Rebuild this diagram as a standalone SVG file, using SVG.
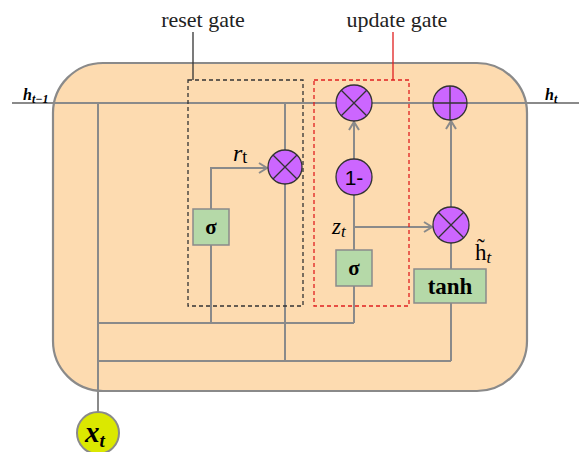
<svg xmlns="http://www.w3.org/2000/svg" width="579" height="452" viewBox="0 0 579 452">
<defs>
<style>
.ln{stroke:#8a8a8a;stroke-width:2;fill:none}
.op{fill:#cc66ff;stroke:#333;stroke-width:1.3}
.opl{stroke:#333;stroke-width:1.3;fill:none}
.gb{fill:#b5d9a8;stroke:#8a8a8a;stroke-width:1.5}
.serif{font-family:"Liberation Serif","Times New Roman",serif}
.sans{font-family:"Liberation Sans",Arial,sans-serif}
</style>
<marker id="arr" markerUnits="userSpaceOnUse" markerWidth="12" markerHeight="12" refX="10" refY="6" orient="auto">
<path d="M2,1 L10,6 L2,11" fill="none" stroke="#8a8a8a" stroke-width="2"/>
</marker>
</defs>
<rect id="cell" x="53" y="63" width="474" height="328" rx="50" ry="50" fill="#fddbb0" stroke="#8a8a8a" stroke-width="2.2"/>
<g id="connectors">
<path class="ln" d="M12,103 H579"/>
<path class="ln" d="M98,412 V103"/>
<path class="ln" d="M98,323 H354"/>
<path class="ln" d="M98,361 H451"/>
<path class="ln" d="M211,323 V245"/>
<path class="ln" d="M211,209 V168 H267" marker-end="url(#arr)"/>
<path class="ln" d="M285,103 V150"/>
<path class="ln" d="M285,184 V361"/>
<path class="ln" d="M354,323 V286"/>
<path class="ln" d="M354,250 V195"/>
<path class="ln" d="M354,227 H432" marker-end="url(#arr)"/>
<path class="ln" d="M354,159 V122" marker-end="url(#arr)"/>
<path class="ln" d="M451,361 V303"/>
<path class="ln" d="M451,269 V243"/>
<path class="ln" d="M451,207 V121" marker-end="url(#arr)"/>
</g>
<g id="reset-gate">
<rect x="188" y="80" width="115" height="226" fill="none" stroke="#333" stroke-width="1.3" stroke-dasharray="4,3"/>
<line x1="193" y1="32" x2="193" y2="80" stroke="#333" stroke-width="1.3"/>
<text class="serif" x="203" y="27" font-size="22" text-anchor="middle" fill="#222">reset gate</text>
</g>
<g id="update-gate">
<rect x="314" y="80" width="95" height="226" fill="none" stroke="#e02020" stroke-width="1.3" stroke-dasharray="4,3"/>
<line x1="393" y1="32" x2="393" y2="80" stroke="#e02020" stroke-width="1.3"/>
<text class="serif" x="397" y="27" font-size="22" text-anchor="middle" fill="#222">update gate</text>
</g>
<g id="sigma-r">
<rect class="gb" x="193" y="209" width="36" height="36"/>
<text class="serif" x="211" y="234" font-size="21" font-weight="bold" text-anchor="middle">σ</text>
</g>
<g id="mul-r">
<circle class="op" cx="285" cy="167" r="17"/>
<path class="opl" d="M273,155 L297,179 M297,155 L273,179"/>
</g>
<g id="mul-z">
<circle class="op" cx="354" cy="103" r="18"/>
<path class="opl" d="M341.3,90.3 L366.7,115.7 M366.7,90.3 L341.3,115.7"/>
</g>
<g id="one-minus">
<circle class="op" cx="354" cy="177" r="18"/>
<text class="sans" x="354" y="185" font-size="21" text-anchor="middle">1-</text>
</g>
<g id="sigma-z">
<rect class="gb" x="336" y="250" width="36" height="36"/>
<text class="serif" x="354" y="275" font-size="21" font-weight="bold" text-anchor="middle">σ</text>
</g>
<g id="plus">
<circle class="op" cx="450" cy="103" r="17"/>
<path class="opl" d="M433,103 H467 M450,86 V120"/>
</g>
<g id="mul-h">
<circle class="op" cx="451" cy="225" r="18"/>
<path class="opl" d="M438.3,212.3 L463.7,237.7 M463.7,212.3 L438.3,237.7"/>
</g>
<g id="tanh">
<rect class="gb" x="414" y="269" width="72" height="34"/>
<text class="serif" x="450" y="294" font-size="23" font-weight="bold" text-anchor="middle">tanh</text>
</g>
<g id="xt">
<circle cx="98" cy="433" r="21" fill="#dbe800" stroke="#8a8a8a" stroke-width="2"/>
<text class="serif" x="85" y="442" font-size="29" font-weight="bold" font-style="italic">x<tspan font-size="19" dy="5">t</tspan></text>
</g>
<g id="labels">
<text class="serif" x="23" y="100" font-size="16" font-weight="bold" font-style="italic">h<tspan font-size="12" dy="3">t−1</tspan></text>
<text class="serif" x="545" y="100" font-size="16" font-weight="bold" font-style="italic">h<tspan font-size="12" dy="3">t</tspan></text>
<text class="serif" x="233" y="161" font-size="24" font-style="italic">r<tspan font-size="18" font-style="normal" dy="2">t</tspan></text>
<text class="serif" x="332" y="234" font-size="23" font-style="italic">z<tspan font-size="17" dy="3">t</tspan></text>
<text class="serif" x="475" y="260" font-size="23">h&#x303;<tspan font-size="17" font-style="italic" dy="3">t</tspan></text>
</g>
</svg>
